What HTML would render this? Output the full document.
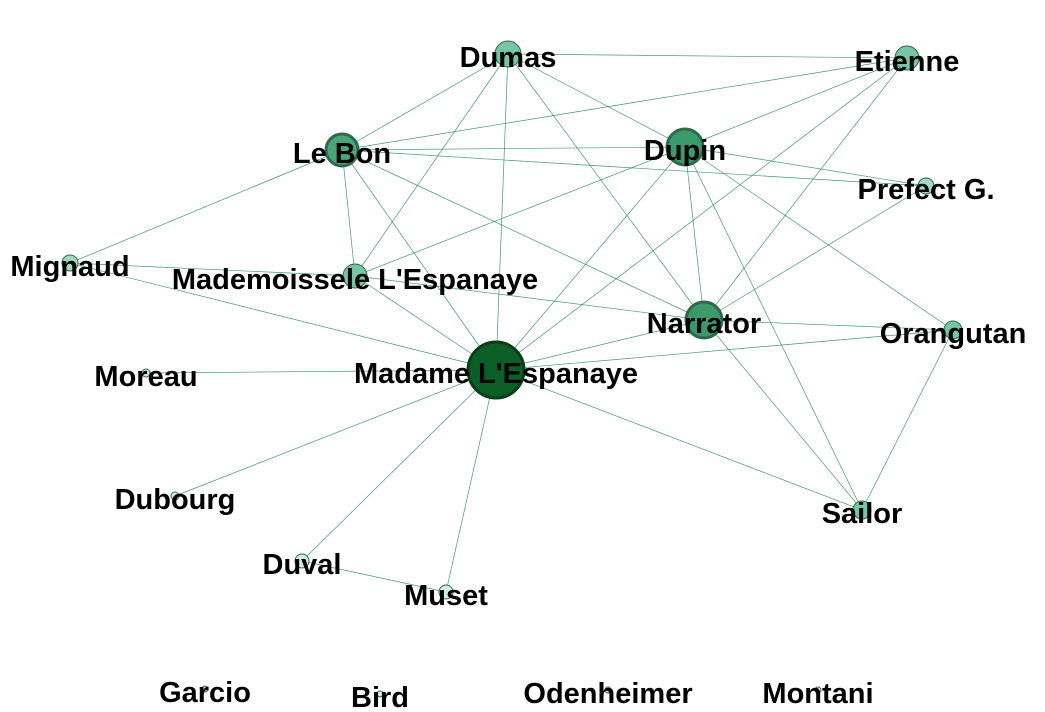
<!DOCTYPE html>
<html><head><meta charset="utf-8"><style>
html,body{margin:0;padding:0;background:#fff;}
svg{display:block;}
text{font-family:"Liberation Sans",Arial,sans-serif;font-weight:bold;font-size:29px;fill:#000;}
</style></head>
<body>
<svg id="chart" width="1045" height="712" viewBox="0 0 1045 712">
<g id="edges"></g>
<g id="nodes"></g>
<g id="labels"></g>
</svg>
<script>
const nodeNames = ["Dumas","Etienne","Le Bon","Dupin","Prefect G.","Mignaud","Mademoissele L'Espanaye","Narrator","Orangutan","Moreau","Madame L'Espanaye","Dubourg","Sailor","Duval","Muset","Garcio","Bird","Odenheimer","Montani"];
const nodeX = [508,907,342,685,926,70,355,704,953,146,496,175,862,302,446,205,380,608,818];
const nodeY = [54,58,150,147,186,263,276,320,330,373,370,496,510,561,592,689,694,690,690];
const nodeDegree = [6,5,8,9,3,3,5,9,4,1,12,1,4,2,2,0,0,0,0];
const edgeList = [
 ["Dumas","Etienne"],["Dumas","Le Bon"],["Dumas","Dupin"],["Dumas","Mademoissele L'Espanaye"],["Dumas","Madame L'Espanaye"],["Dumas","Narrator"],
 ["Etienne","Le Bon"],["Etienne","Dupin"],["Etienne","Madame L'Espanaye"],["Etienne","Narrator"],
 ["Le Bon","Dupin"],["Le Bon","Prefect G."],["Le Bon","Mademoissele L'Espanaye"],["Le Bon","Madame L'Espanaye"],["Le Bon","Narrator"],["Le Bon","Mignaud"],
 ["Dupin","Prefect G."],["Dupin","Mademoissele L'Espanaye"],["Dupin","Madame L'Espanaye"],["Dupin","Narrator"],["Dupin","Sailor"],["Dupin","Orangutan"],
 ["Narrator","Prefect G."],["Narrator","Orangutan"],["Narrator","Sailor"],["Narrator","Madame L'Espanaye"],["Narrator","Mademoissele L'Espanaye"],
 ["Orangutan","Madame L'Espanaye"],["Orangutan","Sailor"],
 ["Madame L'Espanaye","Moreau"],["Madame L'Espanaye","Dubourg"],["Madame L'Espanaye","Duval"],["Madame L'Espanaye","Muset"],["Madame L'Espanaye","Mignaud"],["Madame L'Espanaye","Sailor"],["Madame L'Espanaye","Mademoissele L'Espanaye"],
 ["Mademoissele L'Espanaye","Mignaud"],["Duval","Muset"]
];
const NS="http://www.w3.org/2000/svg";
const idx = n => nodeNames.indexOf(n);
function radius(d){ return [3,4,7,8,9,12,13,15,16,18,19,19,28][Math.min(d,12)]; }
function fill(d){ if(d>=12) return "#0b5e26"; if(d>=9) return "#3a9a6c"; if(d>=8) return "#4aa67a"; if(d>=4) return "#74c6a6"; if(d>=3) return "#a3d9c4"; return "#cfeee3"; }
const eg=document.getElementById('edges');
edgeList.forEach(e=>{
  const a=idx(e[0]), b=idx(e[1]);
  const l=document.createElementNS(NS,'line');
  l.setAttribute('x1',nodeX[a]);l.setAttribute('y1',nodeY[a]);
  l.setAttribute('x2',nodeX[b]);l.setAttribute('y2',nodeY[b]);
  l.setAttribute('stroke','#1f8a55');l.setAttribute('stroke-width','0.7');l.setAttribute('stroke-opacity','0.85');
  
  
  eg.appendChild(l);
});
const ng=document.getElementById('nodes'), lg=document.getElementById('labels');
nodeNames.forEach((n,i)=>{
  const d=nodeDegree[i], r=radius(d);
  const c=document.createElementNS(NS,'circle');
  c.setAttribute('cx',nodeX[i]);c.setAttribute('cy',nodeY[i]);c.setAttribute('r',r);
  c.setAttribute('fill',fill(d));c.setAttribute('stroke',d>=12?'#0a3d18':'#2d6a4a');c.setAttribute('stroke-width',d>=8?3:1);
  
  
  ng.appendChild(c);
  const t=document.createElementNS(NS,'text');
  t.setAttribute('x',nodeX[i]);t.setAttribute('y',nodeY[i]+13);t.setAttribute('text-anchor','middle');
  t.textContent=n;
  
  
  lg.appendChild(t);
});
</script>
</body></html>
